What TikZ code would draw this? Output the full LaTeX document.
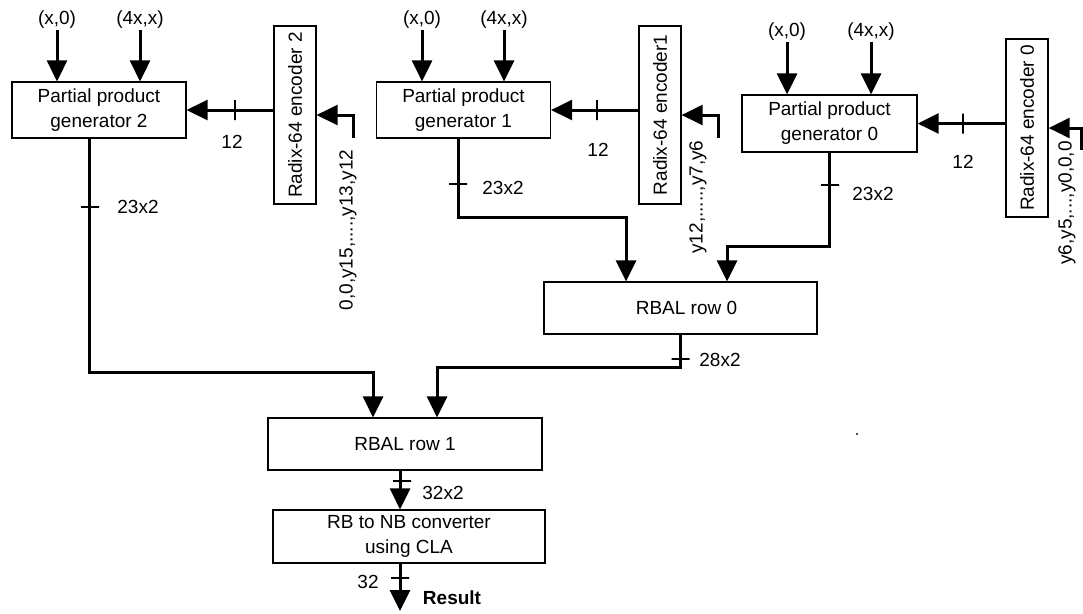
\documentclass[tikz,border=0pt]{standalone}
\usepackage{fontspec}
\setmainfont{Liberation Sans}
\usetikzlibrary{arrows.meta}
\begin{document}
\begin{tikzpicture}[x=1pt,y=-1pt,
  font=\fontsize{19}{25}\selectfont,
  box/.style={draw, line width=1.2pt, inner sep=0pt, align=center},
  ppgbox/.style={box, minimum width=174pt, minimum height=56pt},
  encbox/.style={box, minimum width=42pt, minimum height=178pt},
  rbbox/.style={box, minimum width=273pt, minimum height=52pt},
  conn/.style={line width=3pt, -{Triangle[width=20pt,length=21pt]}},
  lbl/.style={inner sep=1pt},
  vtick/.style={draw, line width=1.6pt, minimum width=0pt, minimum height=20pt, inner sep=0pt},
  htick/.style={draw, line width=1.6pt, minimum width=18pt, minimum height=0pt, inner sep=0pt}]
\useasboundingbox (0,0) rectangle (1083,613);

% blocks
\node[ppgbox] (ppg2) at (99,110) {Partial product\\generator 2};
\node[ppgbox] (ppg1) at (463.5,110) {Partial product\\generator 1};
\node[ppgbox, minimum width=175pt, minimum height=57pt] (ppg0) at (829.5,123.5) {Partial product\\generator 0};
\node[encbox] (enc2) at (295,115) {\rotatebox{90}{Radix-64 encoder 2}};
\node[encbox] (enc1) at (660,115) {\rotatebox{90}{Radix-64 encoder1}};
\node[encbox] (enc0) at (1027,128) {\rotatebox{90}{Radix-64 encoder 0}};
\node[rbbox] (rbal0) at (680.5,308) {\hspace*{12pt}RBAL row 0};
\node[rbbox, minimum width=274pt] (rbal1) at (405,444) {RBAL row 1};
\node[rbbox, minimum width=272pt, minimum height=53pt] (conv) at (409,536.5) {RB to NB converter\\using CLA};

% operand inputs
\node[lbl] (x2) at (57,20) {(x,0)};
\node[lbl] (f2) at (140,20) {(4x,x)};
\node[lbl] (x1) at (422,20) {(x,0)};
\node[lbl] (f1) at (504,20) {(4x,x)};
\node[lbl] (x0) at (787,32) {(x,0)};
\node[lbl] (f0) at (871,32) {(4x,x)};
\foreach \n/\p in {x2/ppg2,f2/ppg2,x1/ppg1,f1/ppg1,x0/ppg0,f0/ppg0}
  \draw[conn] (\n.south) -- (\n.south |- \p.north);

% encoder inputs
\coordinate (e2in) at (353,138);
\coordinate (e1in) at (718,138);
\coordinate (e0in) at (1081,150);
\draw[conn] (e2in) |- (enc2.east);
\draw[conn] (e1in) |- (enc1.east);
\draw[conn] (e0in) |- (enc0.east);
\node[lbl, rotate=90] (l2) at (348,230) {0,0,y15,....,y13,y12};
\node[lbl, rotate=90] (l1) at (698,197) {y12,.....,y7,y6};
\node[lbl, rotate=90] (l0) at (1067,203) {y6,y5,...,y0,0,0};

% encoder -> ppg
\draw[conn] (enc2.west |- ppg2.east) -- (ppg2.east);
\draw[conn] (enc1.west |- ppg1.east) -- (ppg1.east);
\draw[conn] (enc0.west |- ppg0.east) -- (ppg0.east);
\node[vtick] (t2) at (235,110) {};
\node[vtick] (t1) at (597,110) {};
\node[vtick] (t0) at (963,123.5) {};
\node[lbl] (n2) at (232,142) {12};
\node[lbl] (n1) at (598,150) {12};
\node[lbl] (n0) at (963,162) {12};

% ppg outputs
\coordinate (b2) at (89,372);
\coordinate (b1) at (458,217);
\draw[conn] (ppg2.south -| b2) -- (b2) -| ([xshift=-32pt]rbal1.north);
\draw[conn] (ppg1.south -| b1) -- (b1) -| ([xshift=-54.5pt]rbal0.north);
\draw[conn] (ppg0.south) -- ++(0,93.5) -| ([xshift=46.5pt]rbal0.north);
\node[htick] (s2) at (90,207) {};
\node[htick] (s1) at (458,184) {};
\node[htick] (s0) at (830,185) {};
\node[lbl] (m2) at (138,207) {23x2};
\node[lbl] (m1) at (503,188) {23x2};
\node[lbl] (m0) at (873,194) {23x2};

% rbal0 -> rbal1
\draw[conn] (rbal0.south) -- ++(0,33) -| ([xshift=32pt]rbal1.north);
\node[htick] (s3) at (680.5,359) {};
\node[lbl] (m3) at (720,360) {28x2};

% rbal1 -> conv
\draw[conn] ([xshift=-5pt]rbal1.south) -- ([xshift=-5pt]rbal1.south |- conv.north);
\node[htick] (s4) at (402,481) {};
\node[lbl] (m4) at (443,493) {32x2};

% result
\coordinate (res) at (400,611);
\draw[conn] (conv.south -| res) -- (res);
\node[htick] (s5) at (400,578) {};
\node[lbl] (m5) at (368,582) {32};
\node[lbl, font=\fontsize{19}{25}\selectfont\bfseries] (r) at (452,598) {Result};

% stray dot
\fill[black!70] (856,433) rectangle (858,435);
\end{tikzpicture}
\end{document}
